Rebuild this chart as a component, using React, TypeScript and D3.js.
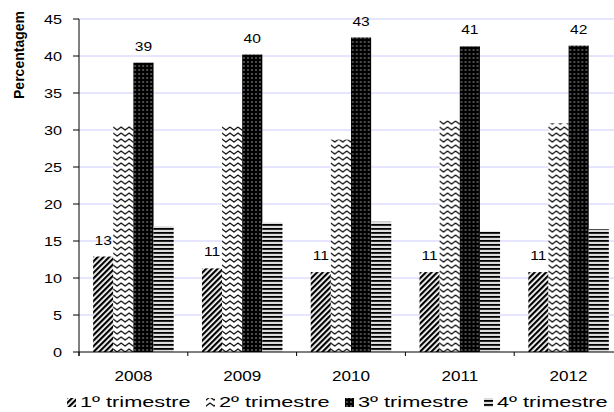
import React from "react";
import { scaleBand, scaleLinear } from "d3";

const years = ["2008", "2009", "2010", "2011", "2012"];
const quarters = ["1º trimestre", "2º trimestre", "3º trimestre", "4º trimestre"];
const q1 = [12.9, 11.3, 10.8, 10.8, 10.8];
const q2 = [30.6, 30.5, 28.7, 31.3, 30.9];
const q3 = [39.1, 40.2, 42.5, 41.3, 41.4];
const q4 = [17.0, 17.5, 17.6, 16.3, 16.6];
const q1Labels = ["13", "11", "11", "11", "11"];
const q3Labels = ["39", "40", "43", "41", "42"];
const yTicks = [0, 5, 10, 15, 20, 25, 30, 35, 40, 45];

const series = [q1, q2, q3, q4];
const patternIds = ["p-diag", "p-zig", "p-dots", "p-hstripe"];

const W = 614;
const H = 412;
const left = 79;
const right = 623;
const top = 19;
const bottom = 352;
const font = "'Liberation Sans', Arial, sans-serif";

const App: React.FC = () => {
  const x = scaleBand<string>()
    .domain(years)
    .range([left, right])
    .paddingInner(0.26)
    .paddingOuter(0.13);

  const xq = scaleBand<number>()
    .domain([0, 1, 2, 3])
    .range([0, x.bandwidth()]);

  const y = scaleLinear().domain([0, 45]).range([bottom, top]);

  const step = x.step();
  const boundaries = years.map((d) => (x(d) as number) - step * 0.13);
  boundaries.push(boundaries[boundaries.length - 1] + step);

  return (
    <div style={{ position: "absolute", left: 0, top: 0 }}>
      <svg width={W} height={H} style={{ display: "block", background: "#fff" }}>
        <defs>
          <pattern
            id="p-diag"
            width={4}
            height={4}
            patternUnits="userSpaceOnUse"
            patternTransform="rotate(45)"
          >
            <rect width={4} height={4} fill="#fff" />
            <rect width={2.2} height={4} fill="#000" />
          </pattern>
          <pattern id="p-zig" width={8} height={6} patternUnits="userSpaceOnUse">
            <rect width={8} height={6} fill="#fff" />
            <path
              d="M-2,5.5 L0,4 L4,1 L8,4 L10,5.5"
              fill="none"
              stroke="#111"
              strokeWidth={1.4}
            />
          </pattern>
          <pattern id="p-dots" width={4} height={4} patternUnits="userSpaceOnUse">
            <rect width={4} height={4} fill="#000" />
            <circle cx={2} cy={2} r={0.75} fill="#bbb" />
          </pattern>
          <pattern id="p-hstripe" width={4} height={4} patternUnits="userSpaceOnUse">
            <rect width={4} height={4} fill="#ddd" />
            <rect width={4} height={1.8} fill="#000" />
          </pattern>
        </defs>

        {/* grid */}
        {yTicks
          .filter((t) => t > 0)
          .map((t) => (
            <line
              key={t}
              x1={left}
              x2={W}
              y1={y(t)}
              y2={y(t)}
              stroke="#ccccff"
              strokeWidth={1}
            />
          ))}

        {/* bars */}
        {years.map((yr, i) => (
          <g key={yr} transform={`translate(${x(yr)},0)`}>
            {series.map((s, k) => (
              <rect
                key={k}
                x={xq(k)}
                y={y(s[i])}
                width={xq.bandwidth()}
                height={bottom - y(s[i])}
                fill={`url(#${patternIds[k]})`}
              />
            ))}
            <text
              transform={`translate(${(xq(0) as number) + xq.bandwidth() / 2},${y(q1[i]) - 12}) scale(1.3,1)`}
              textAnchor="middle"
              fontFamily={font}
              fontSize={12}
              fill="#000"
            >
              {q1Labels[i]}
            </text>
            <text
              transform={`translate(${(xq(2) as number) + xq.bandwidth() / 2},${y(q3[i]) - 12}) scale(1.3,1)`}
              textAnchor="middle"
              fontFamily={font}
              fontSize={12}
              fill="#000"
            >
              {q3Labels[i]}
            </text>
          </g>
        ))}

        {/* y axis */}
        <line x1={left} x2={left} y1={top} y2={bottom + 4} stroke="#000" />
        {yTicks.map((t) => (
          <g key={t}>
            <line x1={left - 6} x2={left} y1={y(t)} y2={y(t)} stroke="#000" />
            <text
              transform={`translate(62,${y(t) + 4.5}) scale(1.25,1)`}
              textAnchor="end"
              fontFamily={font}
              fontSize={13}
              fill="#000"
            >
              {t}
            </text>
          </g>
        ))}
        <text
          transform="translate(24,55) rotate(-90)"
          textAnchor="middle"
          fontFamily={font}
          fontSize={14}
          fontWeight="bold"
          fill="#000"
        >
          Percentagem
        </text>

        {/* x axis */}
        <line x1={left} x2={W} y1={bottom} y2={bottom} stroke="#000" />
        {boundaries.map((b, i) => (
          <line key={i} x1={b} x2={b} y1={bottom} y2={bottom + 4} stroke="#000" />
        ))}
        {years.map((yr) => (
          <text
            key={yr}
            transform={`translate(${(x(yr) as number) + x.bandwidth() / 2},381) scale(1.14,1)`}
            textAnchor="middle"
            fontFamily={font}
            fontSize={15}
            fill="#000"
          >
            {yr}
          </text>
        ))}

        {/* legend */}
        {quarters.map((q, k) => (
          <g key={q} transform={`translate(${67 + k * 139},0)`}>
            <rect x={0} y={398} width={9} height={9} fill={`url(#${patternIds[k]})`} />
            <text
              transform="translate(13,407) scale(1.5,1)"
              fontFamily={font}
              fontSize={14.5}
              fill="#000"
            >
              {q}
            </text>
          </g>
        ))}
      </svg>
    </div>
  );
};

export default App;
